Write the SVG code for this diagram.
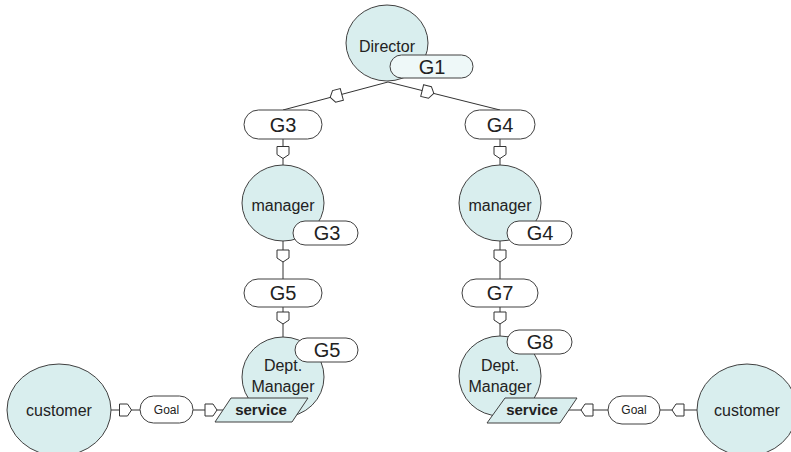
<svg xmlns="http://www.w3.org/2000/svg" width="791" height="452" viewBox="0 0 791 452">
<style>
.actor{fill:#d9eeee;stroke:#404040;stroke-width:1}
.pill{fill:#ffffff;stroke:#404040;stroke-width:1}
.pill1{fill:#eef8f8;stroke:#404040;stroke-width:1}
.res{fill:#d9eeee;stroke:#404040;stroke-width:1}
.conn{fill:none;stroke:#333333;stroke-width:1;marker-mid:url(#dep)}
text{font-family:"Liberation Sans",Arial,sans-serif;fill:#222222;text-anchor:middle}
.t16{font-size:16px}
.t20{font-size:20px}
.t12{font-size:12px}
.tb{font-size:15px;font-weight:bold}
</style>
<defs>
<marker id="dep" markerUnits="userSpaceOnUse" viewBox="0 0 14 14" markerWidth="14" markerHeight="14" refX="7" refY="7" orient="auto">
<path d="M1,1 L9,1 L13,7 L9,13 L1,13 Z" fill="#ffffff" stroke="#333333" stroke-width="1"/>
</marker>
</defs>
<g id="connectors">
<path class="conn" d="M388,82 L336,95.9 L283,110"/>
<path class="conn" d="M388,82 L428,92 L500,110"/>
<path class="conn" d="M283,139 L283,152.5 L283,165"/>
<path class="conn" d="M283,241 L283,256 L283,279"/>
<path class="conn" d="M283,307 L283,318 L283,337"/>
<path class="conn" d="M500,139 L500,152.5 L500,165"/>
<path class="conn" d="M500,241 L500,256 L500,279"/>
<path class="conn" d="M500,307 L500,318 L500,336"/>
<path class="conn" d="M111,410 L125.5,410 L140,410"/>
<path class="conn" d="M193,410 L211,410 L223,410"/>
<path class="conn" d="M608,410 L587,410 L568.5,410"/>
<path class="conn" d="M697,410 L678,410 L660,410"/>
</g>
<g id="director">
<ellipse class="actor" cx="387" cy="43" rx="41" ry="38"/>
<text class="t16" x="387" y="52">Director</text>
</g>
<g id="g1">
<rect class="pill1" x="390" y="55" width="83" height="23" rx="11.5"/>
<text class="t20" x="432" y="74">G1</text>
</g>
<g id="g3-top">
<rect class="pill" x="244" y="110" width="78" height="29" rx="14.5"/>
<text class="t20" x="283" y="132">G3</text>
</g>
<g id="g4-top">
<rect class="pill" x="465" y="110" width="70" height="29" rx="14.5"/>
<text class="t20" x="500" y="132">G4</text>
</g>
<g id="manager-left">
<ellipse class="actor" cx="283" cy="203" rx="41" ry="38"/>
<text class="t16" x="283" y="211">manager</text>
</g>
<g id="g3-own">
<rect class="pill" x="293" y="221" width="65" height="24" rx="12"/>
<text class="t20" x="327" y="240">G3</text>
</g>
<g id="manager-right">
<ellipse class="actor" cx="500" cy="203" rx="41" ry="38"/>
<text class="t16" x="500" y="211">manager</text>
</g>
<g id="g4-own">
<rect class="pill" x="507" y="221" width="65" height="24" rx="12"/>
<text class="t20" x="540" y="240">G4</text>
</g>
<g id="g5-mid">
<rect class="pill" x="244" y="279" width="78" height="28" rx="14"/>
<text class="t20" x="283" y="300">G5</text>
</g>
<g id="g7-mid">
<rect class="pill" x="462" y="279" width="76" height="28" rx="14"/>
<text class="t20" x="500" y="300">G7</text>
</g>
<g id="dept-left">
<ellipse class="actor" cx="283" cy="377" rx="41" ry="40"/>
<text class="t16" x="283" y="371">Dept.</text>
<text class="t16" x="283" y="392">Manager</text>
</g>
<g id="g5-own">
<rect class="pill" x="295" y="338" width="63" height="24" rx="12"/>
<text class="t20" x="327" y="357">G5</text>
</g>
<g id="dept-right">
<ellipse class="actor" cx="500" cy="376" rx="41" ry="40"/>
<text class="t16" x="500" y="371">Dept.</text>
<text class="t16" x="500" y="392">Manager</text>
</g>
<g id="g8-own">
<rect class="pill" x="507" y="330" width="65" height="24" rx="12"/>
<text class="t20" x="540" y="349">G8</text>
</g>
<g id="service-left">
<polygon class="res" points="215,422 231,398 308,398 292,422"/>
<text class="tb" x="261" y="415">service</text>
</g>
<g id="service-right">
<polygon class="res" points="487,423 505,398 577,398 560,423"/>
<text class="tb" x="532" y="415">service</text>
</g>
<g id="customer-left">
<ellipse class="actor" cx="59" cy="410" rx="52" ry="46"/>
<text class="t16" x="59" y="416">customer</text>
</g>
<g id="goal-left">
<rect class="pill" x="140" y="396" width="53" height="27" rx="13.5"/>
<text class="t12" x="166.5" y="414">Goal</text>
</g>
<g id="goal-right">
<rect class="pill" x="608" y="396" width="52" height="28" rx="14"/>
<text class="t12" x="634" y="414">Goal</text>
</g>
<g id="customer-right">
<ellipse class="actor" cx="747" cy="410" rx="50" ry="46"/>
<text class="t16" x="747" y="416">customer</text>
</g>
</svg>
